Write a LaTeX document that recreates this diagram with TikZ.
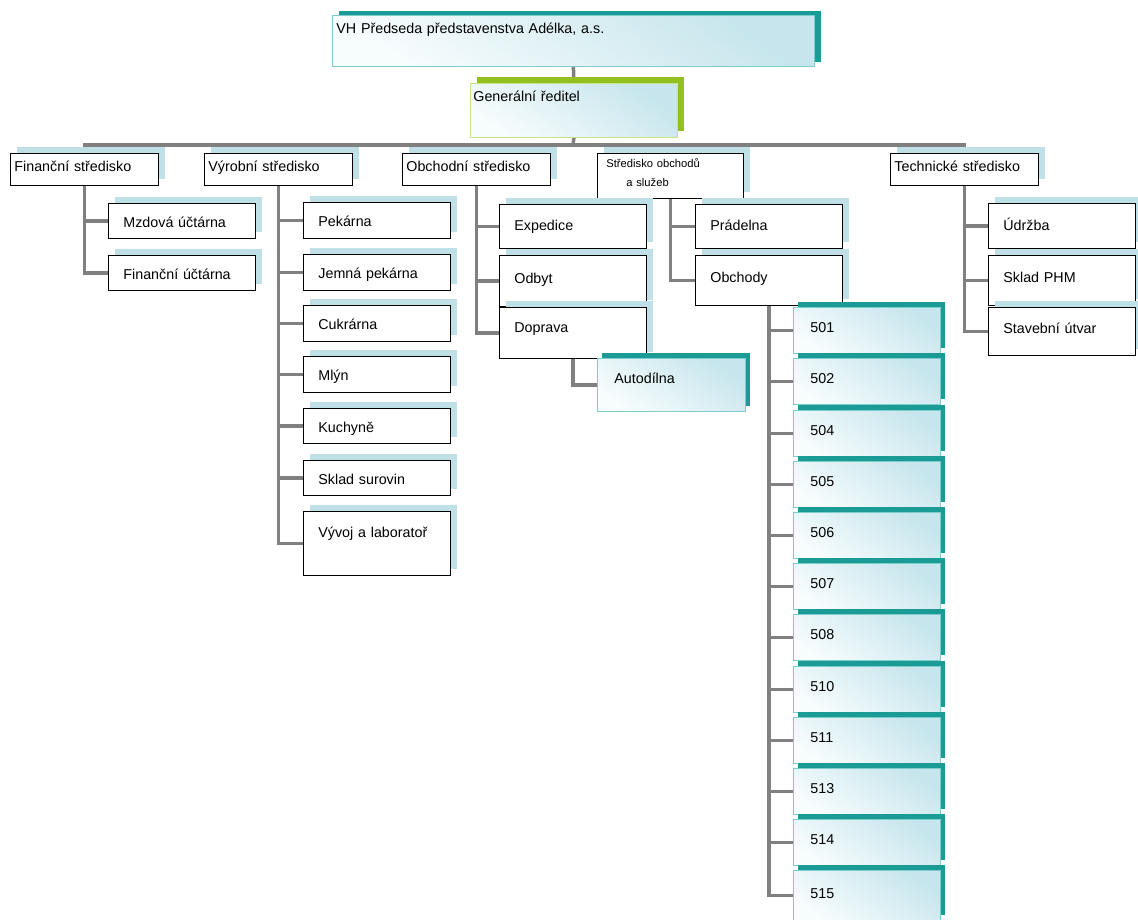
\documentclass[tikz,border=0pt]{standalone}
\usepackage{fontspec}
\setmainfont{Liberation Sans}
\usetikzlibrary{shadows,backgrounds}

\definecolor{linkgray}{HTML}{808080}
\definecolor{paleblue}{HTML}{BFE0E6}
\definecolor{tealdark}{HTML}{1A9B96}
\definecolor{tealline}{HTML}{7ECDCD}
\definecolor{gradtop}{HTML}{C6E5EC}
\definecolor{gradbot}{HTML}{F7FCFD}
\definecolor{greendark}{HTML}{92C020}
\definecolor{greenline}{HTML}{C9E38A}

\tikzset{
  boxbase/.style={draw=black, line width=0.8pt, fill=white, anchor=north west,
    inner ysep=0pt, align=left},
  paleshadow/.style={general shadow={fill=paleblue, shadow xshift=7pt, shadow yshift=6pt}},
  gradbox/.style={boxbase, top color=gradtop, bottom color=gradbot, shading angle=-35},
  chief/.style={gradbox, draw=tealline, inner xsep=4pt, text width=474pt,
    text height=18pt, text depth=33pt,
    general shadow={fill=tealdark, shadow xshift=7pt, shadow yshift=4pt}},
  head/.style={gradbox, draw=greenline, inner xsep=3pt, text width=201pt,
    text height=18pt, text depth=36pt,
    general shadow={fill=greendark, shadow xshift=7pt, shadow yshift=6pt}},
  dept/.style={boxbase, paleshadow, inner xsep=4pt, text width=140pt,
    text height=18pt, text depth=14pt},
  unit/.style={boxbase, paleshadow, inner xsep=15pt, text width=117pt,
    text height=24pt, text depth=12pt},
  shop/.style={gradbox, draw=tealline, inner xsep=17pt, text width=113pt,
    text height=25pt, text depth=21pt,
    general shadow={fill=tealdark, shadow xshift=5pt, shadow yshift=5pt}},
  link/.style={draw=linkgray, line width=3.5pt},
}

\begin{document}
\begin{tikzpicture}[x=1pt, y=-1pt, font=\fontsize{14.3}{16}\selectfont]
  \useasboundingbox (0,0) rectangle (1138,919);

  % vedeni
  \node[chief] (vh) at (332,15) {VH Předseda představenstva Adélka, a.s.};
  \node[head] (gr) at (470,83) {Generální ředitel};
  \coordinate (bus) at (573,145);

  % strediska
  \node[dept] (fin)  at (10,153)  {Finanční středisko};
  \node[dept] (vyr)  at (204,153) {Výrobní středisko};
  \node[dept] (obch) at (402,153) {Obchodní středisko};
  \node[dept, text width=128pt, inner xsep=9pt, font=\fontsize{11.2}{19}\selectfont,
    text height=14pt, text depth=31pt] (sos) at (597,153)
    {Středisko obchodů\\\hspace*{20pt}a služeb};
  \node[dept] (tech) at (890,153) {Technické středisko};

  % financni stredisko
  \node[unit, text depth=11pt] (mzd) at (108,203) {Mzdová účtárna};
  \node[unit, text depth=11pt] (fuc) at (108,255) {Finanční účtárna};

  % vyrobni stredisko
  \node[unit] (pek) at (303,202) {Pekárna};
  \node[unit] (jem) at (303,254) {Jemná pekárna};
  \node[unit] (cuk) at (303,305) {Cukrárna};
  \node[unit] (mly) at (303,356) {Mlýn};
  \node[unit, text depth=11pt] (kuc) at (303,408) {Kuchyně};
  \node[unit, text depth=11pt] (skl) at (303,460) {Sklad surovin};
  \node[unit, text height=26pt, text depth=38pt] (vyv) at (303,511) {Vývoj a laboratoř};

  % obchodni stredisko
  \node[unit, text height=26pt, text depth=18pt] (exp) at (499,204) {Expedice};
  \node[unit, text height=28pt, text depth=23pt] (odb) at (499,255) {Odbyt};
  \node[unit, text height=25pt, text depth=26pt] (dop) at (499,307) {Doprava};
  \node[shop, text width=114pt, text height=25pt, text depth=28pt] (auto) at (597,358) {Autodílna};

  % stredisko obchodu a sluzeb
  \node[unit, text height=26pt, text depth=18pt] (pra) at (695,204) {Prádelna};
  \node[unit, text height=27pt, text depth=23pt] (obc) at (695,255) {Obchody};

  % prodejny
  \node[shop] (s501) at (793,307) {501};
  \node[shop] (s502) at (793,358) {502};
  \node[shop] (s504) at (793,410) {504};
  \node[shop] (s505) at (793,461) {505};
  \node[shop] (s506) at (793,512) {506};
  \node[shop] (s507) at (793,563) {507};
  \node[shop] (s508) at (793,614) {508};
  \node[shop] (s510) at (793,666) {510};
  \node[shop] (s511) at (793,717) {511};
  \node[shop] (s513) at (793,768) {513};
  \node[shop] (s514) at (793,819) {514};
  \node[shop, text height=28pt, text depth=22pt] (s515) at (793,870) {515};

  % technicke stredisko
  \node[unit, text height=27pt, text depth=18pt] (udr) at (988,203) {Údržba};
  \node[unit, text height=27pt, text depth=23pt] (phm) at (988,255) {Sklad PHM};
  \node[unit, text height=26pt, text depth=22pt] (sta) at (988,307) {Stavební útvar};

  \begin{scope}[on background layer]
    \draw[link] (vh.south) -- (gr.north);
    \draw[link] (gr.south) -- (bus);
    \draw[link] (fin.south) -- (fin.north |- bus) -- (tech.north |- bus) -- (tech.south);
    \draw[link] (vyr.north |- bus) -- (vyr.south);
    \draw[link] (obch.north |- bus) -- (obch.south);
    \draw[link] (sos.north |- bus) -- (sos.south);

    \draw[link] (fin.south) -- (fin.south |- fuc.west) -- (fuc.west);
    \draw[link] (fin.south |- mzd.west) -- (mzd.west);

    \draw[link] (vyr.south) -- (vyr.south |- vyv.west) -- (vyv.west);
    \draw[link] (vyr.south |- pek.west) -- (pek.west);
    \draw[link] (vyr.south |- jem.west) -- (jem.west);
    \draw[link] (vyr.south |- cuk.west) -- (cuk.west);
    \draw[link] (vyr.south |- mly.west) -- (mly.west);
    \draw[link] (vyr.south |- kuc.west) -- (kuc.west);
    \draw[link] (vyr.south |- skl.west) -- (skl.west);

    \draw[link] (obch.south) -- (obch.south |- dop.west) -- (dop.west);
    \draw[link] (obch.south |- exp.west) -- (exp.west);
    \draw[link] (obch.south |- odb.west) -- (odb.west);
    \draw[link] (dop.south) -- (dop.south |- auto.west) -- (auto.west);

    \draw[link] (sos.south) -- (sos.south |- obc.west) -- (obc.west);
    \draw[link] (sos.south |- pra.west) -- (pra.west);

    \draw[link] (obc.south) -- (obc.south |- s515.west) -- (s515.west);
    \draw[link] (obc.south |- s501.west) -- (s501.west);
    \draw[link] (obc.south |- s502.west) -- (s502.west);
    \draw[link] (obc.south |- s504.west) -- (s504.west);
    \draw[link] (obc.south |- s505.west) -- (s505.west);
    \draw[link] (obc.south |- s506.west) -- (s506.west);
    \draw[link] (obc.south |- s507.west) -- (s507.west);
    \draw[link] (obc.south |- s508.west) -- (s508.west);
    \draw[link] (obc.south |- s510.west) -- (s510.west);
    \draw[link] (obc.south |- s511.west) -- (s511.west);
    \draw[link] (obc.south |- s513.west) -- (s513.west);
    \draw[link] (obc.south |- s514.west) -- (s514.west);

    \draw[link] (tech.south) -- (tech.south |- sta.west) -- (sta.west);
    \draw[link] (tech.south |- udr.west) -- (udr.west);
    \draw[link] (tech.south |- phm.west) -- (phm.west);
  \end{scope}
\end{tikzpicture}
\end{document}
